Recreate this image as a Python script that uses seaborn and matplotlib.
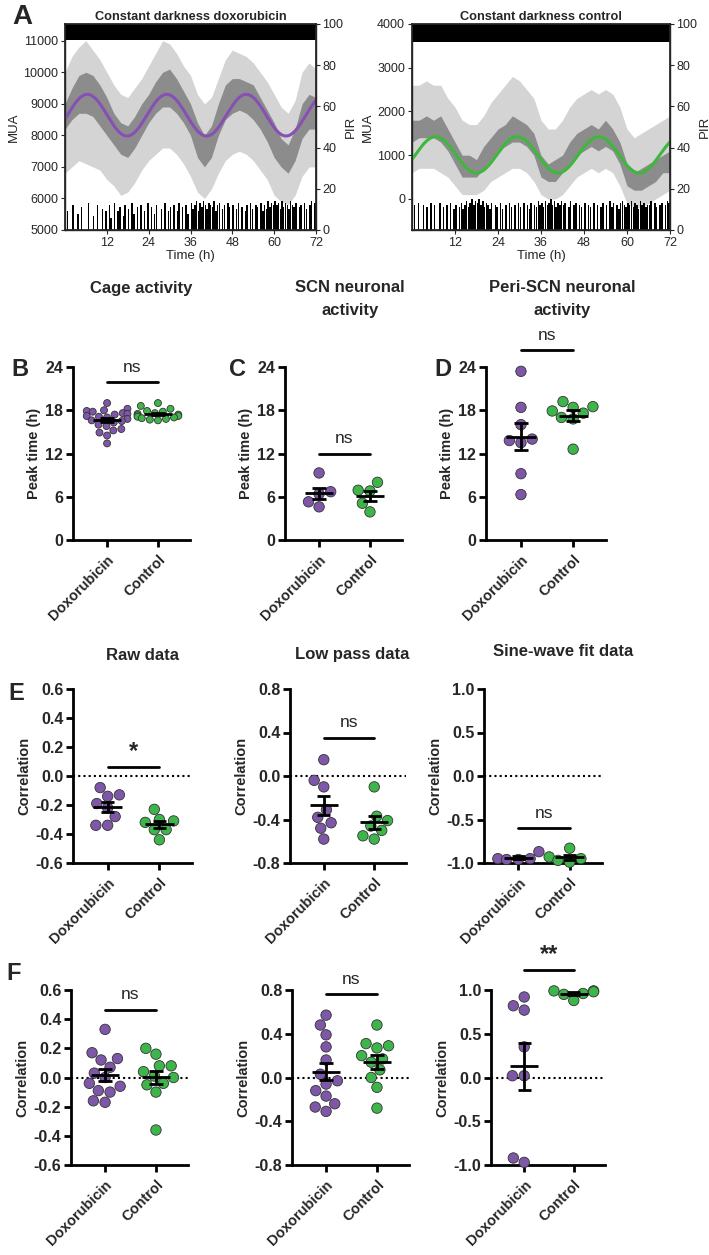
import numpy as np
import pandas as pd
import matplotlib
matplotlib.use("Agg")
import matplotlib.pyplot as plt
import seaborn as sns
from matplotlib import font_manager

sns.set_theme(style="ticks")
plt.rcParams['font.family'] = ['Liberation Sans', 'DejaVu Sans']
plt.rcParams['axes.unicode_minus'] = False
_names = {f.name for f in font_manager.fontManager.ttflist}
NARROW = 'Liberation Sans Narrow' if 'Liberation Sans Narrow' in _names else 'Liberation Sans'

PURPLE = '#7E57A8'
GREEN = '#3DB54A'
SINE_PURPLE = '#8750B5'
SINE_GREEN = '#3DB83D'
LIGHT = '#D4D4D4'
DARK = '#8C8C8C'

# ---------------- Panel A data ----------------
T_ENV = list(range(0, 73, 2))  # hours
DOX_LIGHT_LO = [6800, 7000, 7200, 7100, 7000, 6900, 6600, 6400, 6100, 6200, 6500, 6900, 7200, 7400, 7600, 7600, 7400,
                7100, 6700, 6200, 6000, 6300, 6800, 7200, 7400, 7500, 7400, 7200, 6900, 6600, 6100, 5900, 5800, 6100,
                6700, 7000, 7000]
DOX_LIGHT_HI = [10000, 10500, 10800, 11000, 10700, 10400, 10000, 9600, 9300, 9200, 9500, 9800, 10200, 10600, 11000,
                10900, 10600, 10200, 9900, 9300, 9000, 9200, 9800, 10400, 10700, 10600, 10500, 10300, 10000, 9700, 9300,
                8900, 8700, 9100, 10000, 10300, 10100]
DOX_DARK_LO = [8200, 8500, 8700, 8700, 8600, 8300, 8000, 7700, 7400, 7300, 7600, 8000, 8400, 8700, 8900, 8900, 8700,
               8400, 8000, 7300, 7000, 7300, 8000, 8500, 8700, 8800, 8700, 8500, 8200, 7800, 7300, 7000, 6800, 7200,
               7900, 8200, 8200]
DOX_DARK_HI = [9000, 9500, 9900, 10000, 9900, 9600, 9200, 8700, 8400, 8300, 8600, 9000, 9300, 9700, 10000, 10100, 9800,
               9400, 9000, 8400, 8000, 8300, 9000, 9600, 9800, 9800, 9700, 9600, 9200, 8800, 8400, 7900, 7700, 8200,
               9000, 9300, 9200]
CTL_LIGHT_LO = [600, 700, 700, 700, 600, 500, 300, 100, 100, 100, 200, 400, 500, 600, 700, 700, 600, 400, 100, 0, 0,
                100, 300, 500, 600, 700, 600, 700, 600, 300, -100, -200, -200, -100, 0, 100, 200]
CTL_LIGHT_HI = [2600, 2600, 2700, 2600, 2600, 2300, 2100, 1800, 1700, 1700, 1900, 2200, 2400, 2600, 2800, 2700, 2500,
                2300, 1800, 1600, 1600, 1800, 2100, 2300, 2400, 2500, 2400, 2500, 2400, 2100, 1600, 1400, 1500, 1600,
                1700, 1800, 1900]
CTL_DARK_LO = [1300, 1400, 1400, 1400, 1300, 1100, 800, 500, 500, 500, 700, 900, 1100, 1200, 1300, 1300, 1200, 1000,
               500, 400, 400, 600, 800, 1000, 1100, 1200, 1100, 1200, 1100, 800, 300, 200, 200, 300, 400, 600, 600]
CTL_DARK_HI = [1800, 1800, 1900, 1800, 1900, 1600, 1300, 1000, 1000, 900, 1200, 1400, 1600, 1700, 1900, 1800, 1700,
               1500, 1000, 800, 900, 1000, 1300, 1500, 1600, 1700, 1600, 1800, 1600, 1300, 800, 600, 700, 800, 900,
               1000, 1100]
# sine-wave fit parameters: mesor, amplitude, period (h), acrophase (h)
DOX_SINE = [8640, 660, 22.8, 6.4]
CTL_SINE = [1008, 415, 22.75, 6.6]
# cage activity (PIR), 0.5-h bins
DOX_ACT = [0, 9, 0, 0, 12, 0, 0, 8, 0, 11, 0, 0,
           0, 13, 0, 0, 7, 0, 12, 0, 0, 10, 0, 9,
           0, 12, 6, 0, 13, 0, 9, 11, 0, 7, 12, 0,
           10, 0, 13, 8, 0, 11, 0, 12, 0, 9, 0, 13,
           0, 11, 0, 8, 12, 0, 0, 10, 0, 13, 0, 9,
           11, 0, 12, 0, 9, 13, 0, 11, 0, 12, 8, 0,
           13, 10, 12, 14, 9, 13, 11, 14, 12, 10, 13, 12,
           11, 14, 9, 12, 13, 0, 10, 12, 0, 13, 11, 0,
           12, 0, 10, 13, 0, 11, 0, 9, 12, 0, 13, 10,
           0, 12, 11, 0, 13, 9, 12, 10, 14, 11, 13, 12,
           14, 12, 13, 10, 14, 11, 13, 12, 10, 14, 12, 11,
           13, 0, 11, 12, 0, 13, 10, 0, 12, 14, 0, 13]
CTL_ACT = [0, 12, 0, 13, 0, 0, 12, 0, 11, 0, 13, 0,
           12, 0, 0, 13, 0, 11, 0, 12, 0, 13, 0, 10,
           12, 0, 11, 13, 10, 12, 14, 11, 13, 15, 12, 14,
           13, 15, 12, 14, 11, 13, 12, 10, 13, 0, 12, 11,
           0, 13, 10, 0, 12, 0, 13, 11, 0, 12, 0, 13,
           11, 0, 13, 0, 12, 10, 13, 0, 12, 11, 14, 12,
           13, 11, 14, 12, 13, 15, 12, 14, 11, 13, 12, 14,
           12, 13, 0, 11, 14, 0, 12, 13, 0, 12, 11, 0,
           13, 0, 12, 11, 0, 13, 0, 12, 0, 11, 13, 0,
           12, 0, 14, 11, 13, 0, 12, 10, 13, 14, 12, 11,
           13, 12, 14, 11, 13, 12, 10, 14, 12, 13, 11, 12,
           12, 14, 0, 13, 11, 0, 12, 13, 0, 12, 14, 13]

# ---------------- Dot-plot data ----------------
GROUPS = ['Doxorubicin', 'Control']
B_DOX = [19.0, 18.2, 18.0, 17.9, 17.8, 17.6, 17.5, 17.4, 17.2, 17.1, 17.0, 16.8, 16.6, 16.5, 16.3, 16.0, 15.8, 15.4,
         15.2, 14.9, 14.5, 13.4]
B_CTL = [19.0, 18.6, 18.2, 17.9, 17.8, 17.6, 17.5, 17.4, 17.3, 17.2, 17.1, 17.0, 16.9, 16.8, 16.7, 16.6]
C_DOX = [9.3, 6.7, 6.4, 5.3, 4.6]
C_CTL = [8.0, 6.8, 6.9, 3.9, 5.1]
D_DOX = [23.4, 18.4, 16.0, 14.0, 13.8, 13.5, 9.2, 6.3]
D_CTL = [19.2, 18.5, 18.4, 17.9, 17.6, 17.0, 16.8, 12.6]
E_RAW_DOX = [-0.08, -0.13, -0.14, -0.19, -0.22, -0.28, -0.34, -0.34]
E_RAW_CTL = [-0.23, -0.30, -0.31, -0.32, -0.37, -0.37, -0.44]
E_LP_DOX = [0.15, -0.04, -0.10, -0.31, -0.38, -0.43, -0.48, -0.58]
E_LP_CTL = [-0.10, -0.37, -0.41, -0.46, -0.50, -0.55, -0.58]
E_SW_DOX = [-0.87, -0.95, -0.96, -0.95, -0.96]
E_SW_CTL = [-0.83, -0.93, -0.95, -0.97, -0.99]
F_RAW_DOX = [0.33, 0.17, 0.13, 0.12, 0.07, 0.03, 0.00, -0.04, -0.06, -0.09, -0.10, -0.16, -0.17]
F_RAW_CTL = [0.20, 0.16, 0.08, 0.08, 0.04, 0.01, 0.00, -0.04, -0.05, -0.10, -0.36]
F_LP_DOX = [0.57, 0.48, 0.39, 0.28, 0.16, 0.03, -0.03, -0.06, -0.12, -0.17, -0.24, -0.27, -0.31]
F_LP_CTL = [0.48, 0.31, 0.29, 0.27, 0.20, 0.17, 0.14, 0.07, 0.00, -0.09, -0.28]
F_SW_DOX = [0.92, 0.82, 0.77, 0.35, 0.02, 0.02, -0.92, -0.97]
F_SW_CTL = [0.99, 0.99, 0.98, 0.96, 0.95, 0.88]

PEAK_TICKS = [0, 6, 12, 18, 24]
CORR6_TICKS = [-0.6, -0.4, -0.2, 0.0, 0.2, 0.4, 0.6]
CORR8_TICKS = [-0.8, -0.4, 0.0, 0.4, 0.8]
CORR10_TICKS = [-1.0, -0.5, 0.0, 0.5, 1.0]

# ---------------- Figure ----------------
W, H = 709, 1255
fig = plt.figure(figsize=(W / 100, H / 100), dpi=100)


def axpx(x0, y0, x1, y1):
    return fig.add_axes([x0 / W, 1 - y1 / H, (x1 - x0) / W, (y1 - y0) / H])


def ftext(x, y, s, **kw):
    fig.text(x / W, 1 - y / H, s, **kw)


def trace_panel(ax, llo, lhi, dlo, dhi, sine, color, act, ylim, yticks, title, bar_lo):
    ax.fill_between(T_ENV, llo, lhi, color=LIGHT, lw=0, zorder=1)
    ax.fill_between(T_ENV, dlo, dhi, color=DARK, lw=0, zorder=2)
    mesor, amp, period, phase = sine
    tt = np.linspace(0, 72, 600)
    sns.lineplot(x=tt, y=mesor + amp * np.cos(2 * np.pi * (tt - phase) / period), color=color, lw=2.2, ax=ax,
                 zorder=3)
    ax.set_xlim(0, 72)
    ax.set_ylim(*ylim)
    ax.set_yticks(yticks)
    ax.set_yticklabels([str(v) for v in yticks], fontsize=9)
    ax.set_xticks([12, 24, 36, 48, 60, 72])
    ax.set_xticklabels(['12', '24', '36', '48', '60', '72'], fontsize=9)
    ax.set_xlabel('Time (h)', fontsize=9.5, labelpad=1)
    ax.set_ylabel('MUA', fontsize=9.5, labelpad=2)
    ax.tick_params(length=3, width=0.8, pad=2)
    for s in ax.spines.values():
        s.set_linewidth(1.0)
    ax2 = ax.twinx()
    tact = np.arange(len(act)) * 0.5 + 0.25
    ax2.bar(tact, act, width=0.42, color='black', lw=0)
    ax2.axhspan(bar_lo, 100, color='black', lw=0)
    ax2.set_ylim(0, 100)
    ax2.set_yticks([0, 20, 40, 60, 80, 100])
    ax2.set_yticklabels(['0', '20', '40', '60', '80', '100'], fontsize=9)
    ax2.set_ylabel('PIR', fontsize=9.5, labelpad=1)
    ax2.tick_params(length=3, width=0.8, pad=1.5)
    ax.set_title(title, fontsize=9.2, fontweight='bold', pad=3)


axA1 = axpx(65, 24, 316, 230)
trace_panel(axA1, DOX_LIGHT_LO, DOX_LIGHT_HI, DOX_DARK_LO, DOX_DARK_HI, DOX_SINE, SINE_PURPLE, DOX_ACT,
            (5000, 11530), list(range(5000, 11001, 1000)), 'Constant darkness doxorubicin', 92)
axA2 = axpx(412, 24, 670, 230)
trace_panel(axA2, CTL_LIGHT_LO, CTL_LIGHT_HI, CTL_DARK_LO, CTL_DARK_HI, CTL_SINE, SINE_GREEN, CTL_ACT,
            (-710, 4000), list(range(0, 4001, 1000)), 'Constant darkness control', 91.5)


def fmt(v, ticks):
    if ticks is PEAK_TICKS:
        return str(int(v))
    return f"{v:.1f}"


def dot_panel(ax, dox, ctl, ticks, ylabel, sig, bar_y, txt_y, size, zero=True, sigsize=12.5, sigbold=False):
    df = pd.DataFrame({'group': [GROUPS[0]] * len(dox) + [GROUPS[1]] * len(ctl),
                       'value': list(dox) + list(ctl)})
    sns.swarmplot(data=df, x='group', y='value', hue='group', order=GROUPS, hue_order=GROUPS,
                  palette=[PURPLE, GREEN], size=size, edgecolor='#333333', linewidth=0.6, ax=ax,
                  legend=False, zorder=3)
    for c in ax.collections:
        c.set_clip_on(False)
    for i, vals in enumerate([dox, ctl]):
        m = np.mean(vals)
        s = np.std(vals, ddof=1) / np.sqrt(len(vals))
        ax.hlines(m, i - 0.28, i + 0.28, color='black', lw=2, zorder=5, clip_on=False)
        ax.vlines(i, m - s, m + s, color='black', lw=2, zorder=5, clip_on=False)
        ax.hlines([m - s, m + s], i - 0.13, i + 0.13, color='black', lw=2, zorder=5, clip_on=False)
    if zero:
        ax.axhline(0, color='black', ls=(0, (1, 1.5)), lw=1.5, zorder=1)
    ax.plot([0, 1], [bar_y, bar_y], color='black', lw=2, clip_on=False)
    ax.text(0.5, txt_y, sig, ha='center', va='center', fontsize=sigsize,
            fontweight='bold' if sigbold else 'normal', clip_on=False)
    ax.set_xlim(-0.67, 1.63)
    ax.set_ylim(ticks[0], ticks[-1])
    ax.set_yticks(ticks)
    ax.set_yticklabels([fmt(v, ticks) for v in ticks], fontsize=11.5, fontweight='bold', family=NARROW)
    ax.set_xticks([0, 1])
    ax.set_xticklabels(GROUPS, rotation=45, ha='right', rotation_mode='anchor', fontsize=10.5,
                       fontweight='bold')
    ax.set_xlabel('')
    ax.set_ylabel(ylabel, fontsize=10.5, fontweight='bold', labelpad=3)
    ax.tick_params(axis='both', length=5, width=2, pad=2, color='black')
    ax.tick_params(axis='x', pad=4)
    sns.despine(ax=ax)
    ax.spines['left'].set_linewidth(2)
    ax.spines['bottom'].set_linewidth(2)
    ax.spines['left'].set_color('black')
    ax.spines['bottom'].set_color('black')


axB = axpx(73, 367, 190, 540)
dot_panel(axB, B_DOX, B_CTL, PEAK_TICKS, 'Peak time (h)', 'ns', 21.9, 23.9, 5.0, zero=False)
axC = axpx(285, 367, 402, 540)
dot_panel(axC, C_DOX, C_CTL, PEAK_TICKS, 'Peak time (h)', 'ns', 12.0, 14.1, 7.5, zero=False)
axD = axpx(486, 367, 606, 540)
dot_panel(axD, D_DOX, D_CTL, PEAK_TICKS, 'Peak time (h)', 'ns', 26.4, 28.4, 7.5, zero=False)

axE1 = axpx(73, 689, 192, 863)
dot_panel(axE1, E_RAW_DOX, E_RAW_CTL, CORR6_TICKS, 'Correlation', '*', 0.064, 0.17, 7.5, sigsize=17, sigbold=True)
axE2 = axpx(290, 689, 406, 863)
dot_panel(axE2, E_LP_DOX, E_LP_CTL, CORR8_TICKS, 'Correlation', 'ns', 0.345, 0.49, 7.5)
axE3 = axpx(484, 689, 602, 863)
dot_panel(axE3, E_SW_DOX, E_SW_CTL, CORR10_TICKS, 'Correlation', 'ns', -0.60, -0.43, 7.5)

axF1 = axpx(71, 990, 188, 1165)
dot_panel(axF1, F_RAW_DOX, F_RAW_CTL, CORR6_TICKS, 'Correlation', 'ns', 0.46, 0.57, 7.5)
axF2 = axpx(292, 990, 409, 1165)
dot_panel(axF2, F_LP_DOX, F_LP_CTL, CORR8_TICKS, 'Correlation', 'ns', 0.76, 0.90, 7.5)
axF3 = axpx(491, 990, 605, 1165)
dot_panel(axF3, F_SW_DOX, F_SW_CTL, CORR10_TICKS, 'Correlation', '**', 1.23, 1.41, 7.5, sigsize=17, sigbold=True)

# titles and panel letters
ftext(22, 17, 'A', fontsize=20, fontweight='bold', ha='center', va='center')
ftext(20, 370, 'B', fontsize=17, fontweight='bold', ha='center', va='center')
ftext(237, 370, 'C', fontsize=17, fontweight='bold', ha='center', va='center')
ftext(443, 370, 'D', fontsize=17, fontweight='bold', ha='center', va='center')
ftext(16, 694, 'E', fontsize=17, fontweight='bold', ha='center', va='center')
ftext(14, 974, 'F', fontsize=17, fontweight='bold', ha='center', va='center')

ftext(141, 288, 'Cage activity', fontsize=12, fontweight='bold', ha='center', va='center')
ftext(350, 299, 'SCN neuronal\nactivity', fontsize=12, fontweight='bold', ha='center', va='center',
      linespacing=1.6)
ftext(562, 299, 'Peri-SCN neuronal\nactivity', fontsize=12, fontweight='bold', ha='center', va='center',
      linespacing=1.6)
ftext(142, 655, 'Raw data', fontsize=12, fontweight='bold', ha='center', va='center')
ftext(352, 654, 'Low pass data', fontsize=12, fontweight='bold', ha='center', va='center')
ftext(563, 652, 'Sine-wave fit data', fontsize=12, fontweight='bold', ha='center', va='center')

fig.savefig('out.png', dpi=100)
